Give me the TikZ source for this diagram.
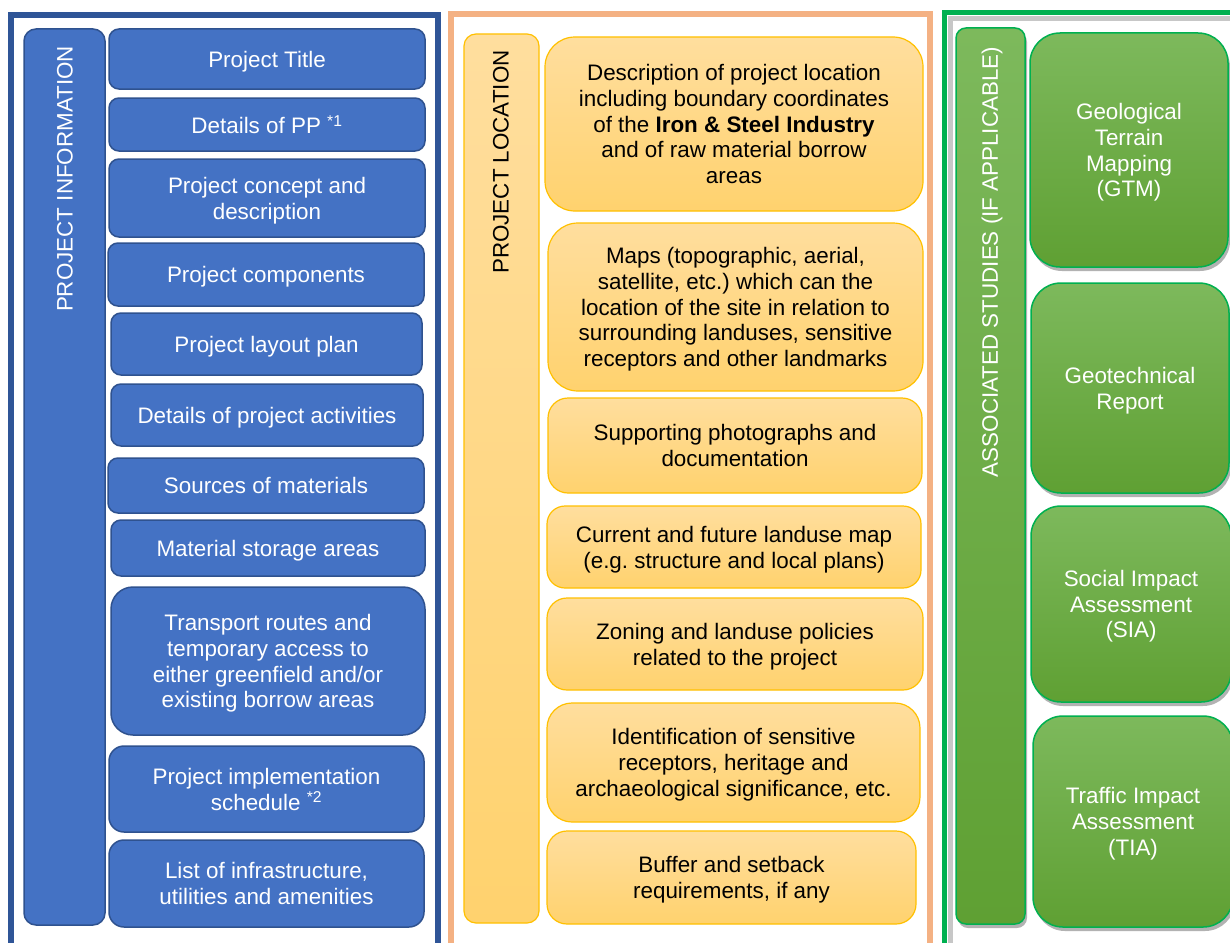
\documentclass[tikz,border=0pt]{standalone}
\usepackage{fontspec}
\setmainfont{Liberation Sans}
\usetikzlibrary{shadows}
\definecolor{blueF}{HTML}{4472C4}
\definecolor{blueD}{HTML}{2F528F}
\definecolor{blueP}{HTML}{2F5597}
\definecolor{peach}{HTML}{F4B183}
\definecolor{goldD}{HTML}{FFC000}
\definecolor{orTop}{HTML}{FFDE9E}
\definecolor{orBot}{HTML}{FFD26E}
\definecolor{grTop}{HTML}{7DB95C}
\definecolor{grBot}{HTML}{5FA033}
\definecolor{grD}{HTML}{00B050}
\newcommand\mainsz{\fontsize{22.4}{25.8}\selectfont\frenchspacing}
\begin{document}
\begin{tikzpicture}[x=1pt,y=-1pt,
  bluebox/.style={draw=blueD, line width=1.5pt, fill=blueF, rounded corners=10pt,
    text=white, align=center, font=\mainsz, inner sep=0pt, text depth=0pt},
  orbox/.style={draw=goldD, line width=1.2pt, top color=orTop, bottom color=orBot,
    rounded corners=22pt, text=black, align=center, font=\mainsz, inner sep=0pt, text depth=0pt},
  grbox/.style={draw=grD, line width=1.5pt, top color=grTop, bottom color=grBot,
    rounded corners=30pt, text=white, align=center, font=\mainsz, inner sep=0pt, text depth=0pt,
    drop shadow={shadow xshift=2pt, shadow yshift=-4pt, fill=black, opacity=0.3}},
  vtitle/.style={rotate=90, font=\mainsz, inner sep=0pt},
  panel/.style={line width=6pt}
]
\useasboundingbox (0,0) rectangle (1230,942);
\clip (0,0) rectangle (1230,942);
\fill[white] (0,0) rectangle (1230,942);

% panels
\draw[panel, draw=blueP] (11,15.5) rectangle (438,960);
\draw[panel, draw=peach] (451,14) rectangle (930,960);
\draw[line width=5pt, draw=black!22] (950,19) rectangle (1250,960);
\draw[line width=5pt, draw=grD] (944.5,13) rectangle (1250,960);

% ---- left column
\node[bluebox, rounded corners=12pt, minimum width=81pt, minimum height=896pt] (bbar) at (64.5,477) {};
\node[vtitle, text=white] (btitle) at (65,179) {PROJECT INFORMATION};
\node[bluebox, minimum width=316pt, minimum height=60pt] (b1) at (267,59) {Project Title};
\node[bluebox, minimum width=316pt, minimum height=53pt] (b2) at (267,124.5) {Details of PP \textsuperscript{*1}};
\node[bluebox, minimum width=316pt, minimum height=78pt] (b3) at (267,198) {Project concept and\\description};
\node[bluebox, minimum width=316pt, minimum height=63pt] (b4) at (266,274.5) {Project components};
\node[bluebox, minimum width=311pt, minimum height=62pt] (b5) at (266.5,344) {Project layout plan};
\node[bluebox, minimum width=312pt, minimum height=62pt] (b6) at (267,415) {Details of project activities};
\node[bluebox, minimum width=316pt, minimum height=55pt] (b7) at (266,485.5) {Sources of materials};
\node[bluebox, minimum width=314pt, minimum height=56pt] (b8) at (268,548) {Material storage areas};
\node[bluebox, rounded corners=22pt, minimum width=314pt, minimum height=148pt] (b9) at (268,661)
  {Transport routes and\\temporary access to\\either greenfield and/or\\existing borrow areas};
\node[bluebox, rounded corners=15pt, minimum width=315pt, minimum height=86pt] (b10) at (266.5,789)
  {Project implementation\\schedule \textsuperscript{*2}};
\node[bluebox, rounded corners=15pt, minimum width=315pt, minimum height=87pt] (b11) at (266.5,883.5)
  {List of infrastructure,\\utilities and amenities};

% ---- middle column
\node[orbox, rounded corners=12pt, minimum width=75pt, minimum height=889pt] (obar) at (501.5,478.5) {};
\node[vtitle, text=black] (otitle) at (501,162) {PROJECT LOCATION};
\node[orbox, rounded corners=30pt, minimum width=378pt, minimum height=174pt] (m1) at (734,124)
  {Description of project location\\including boundary coordinates\\of the \textbf{Iron \& Steel Industry}\\and of raw material borrow\\areas};
\node[orbox, rounded corners=30pt, minimum width=375pt, minimum height=168pt] (m2) at (735.5,307)
  {Maps (topographic, aerial,\\satellite, etc.) which can the\\location of the site in relation to\\surrounding landuses, sensitive\\receptors and other landmarks};
\node[orbox, rounded corners=20pt, minimum width=374pt, minimum height=95pt] (m3) at (735,445.5)
  {Supporting photographs and\\documentation};
\node[orbox, rounded corners=18pt, minimum width=374pt, minimum height=82pt] (m4) at (734,547)
  {Current and future landuse map\\(e.g. structure and local plans)};
\node[orbox, rounded corners=20pt, minimum width=376pt, minimum height=92pt] (m5) at (735,644)
  {Zoning and landuse policies\\related to the project};
\node[orbox, rounded corners=25pt, minimum width=373pt, minimum height=119pt] (m6) at (733.5,762.5)
  {Identification of sensitive\\receptors, heritage and\\archaeological significance, etc.};
\node[orbox, rounded corners=20pt, minimum width=369pt, minimum height=93pt] (m7) at (731.5,877.5)
  {Buffer and setback\\requirements, if any};

% ---- right column
\node[grbox, rounded corners=10pt, minimum width=69pt, minimum height=896pt] (gbar) at (990.5,476) {};
\node[vtitle, text=white] (gtitle) at (992,262) {ASSOCIATED STUDIES (IF APPLICABLE)};
\node[grbox, minimum width=198pt, minimum height=234pt] (g1) at (1129,150)
  {Geological\\Terrain\\Mapping\\(GTM)};
\node[grbox, minimum width=198pt, minimum height=210pt] (g2) at (1130,388)
  {Geotechnical\\Report};
\node[grbox, minimum width=200pt, minimum height=196pt] (g3) at (1131,604)
  {Social Impact\\Assessment\\(SIA)};
\node[grbox, minimum width=200pt, minimum height=211pt] (g4) at (1133,821.5)
  {Traffic Impact\\Assessment\\(TIA)};
\end{tikzpicture}
\end{document}
